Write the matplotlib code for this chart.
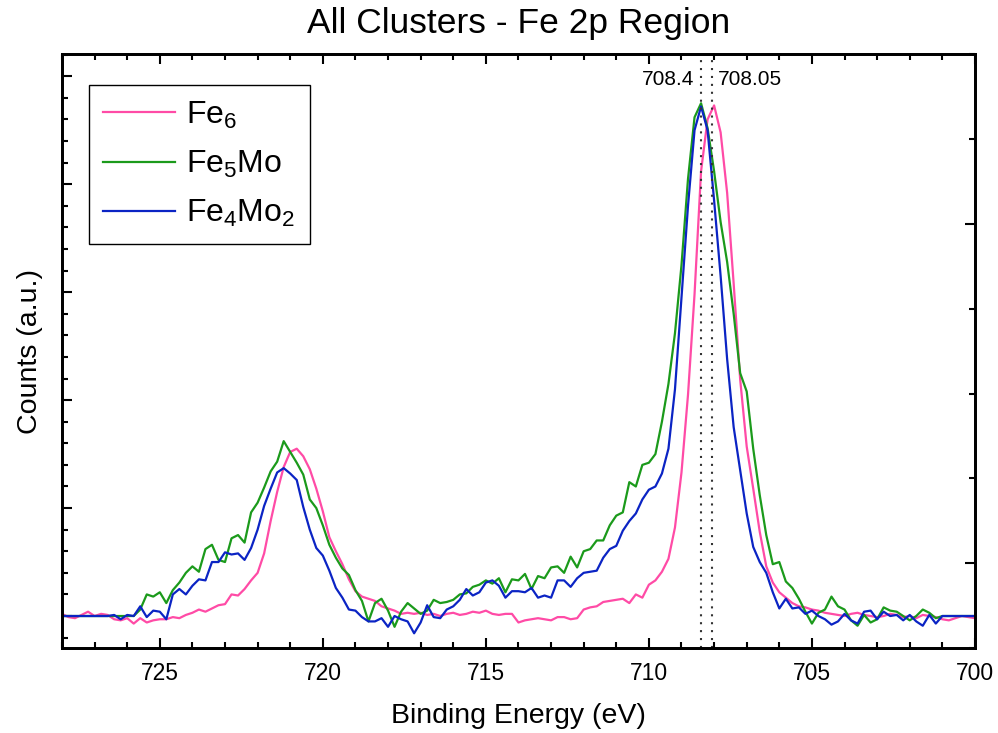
import matplotlib
matplotlib.use('Agg')
import matplotlib.pyplot as plt
from matplotlib.ticker import MultipleLocator, NullFormatter

plt.rcParams['font.family'] = 'Liberation Sans'
plt.rcParams['mathtext.fontset'] = 'custom'
plt.rcParams['mathtext.rm'] = 'Liberation Sans'
plt.rcParams['mathtext.it'] = 'Liberation Sans:italic'
plt.rcParams['mathtext.bf'] = 'Liberation Sans:bold'

# binding energy grid (eV)
energy = [728.0, 727.8, 727.6, 727.4, 727.2, 727.0, 726.8, 726.6, 726.4, 726.2,
          726.0, 725.8, 725.6, 725.4, 725.2, 725.0, 724.8, 724.6, 724.4, 724.2,
          724.0, 723.8, 723.6, 723.4, 723.2, 723.0, 722.8, 722.6, 722.4, 722.2,
          722.0, 721.8, 721.6, 721.4, 721.2, 721.0, 720.8, 720.6, 720.4, 720.2,
          720.0, 719.8, 719.6, 719.4, 719.2, 719.0, 718.8, 718.6, 718.4, 718.2,
          718.0, 717.8, 717.6, 717.4, 717.2, 717.0, 716.8, 716.6, 716.4, 716.2,
          716.0, 715.8, 715.6, 715.4, 715.2, 715.0, 714.8, 714.6, 714.4, 714.2,
          714.0, 713.8, 713.6, 713.4, 713.2, 713.0, 712.8, 712.6, 712.4, 712.2,
          712.0, 711.8, 711.6, 711.4, 711.2, 711.0, 710.8, 710.6, 710.4, 710.2,
          710.0, 709.8, 709.6, 709.4, 709.2, 709.0, 708.8, 708.6, 708.4, 708.2,
          708.0, 707.8, 707.6, 707.4, 707.2, 707.0, 706.8, 706.6, 706.4, 706.2,
          706.0, 705.8, 705.6, 705.4, 705.2, 705.0, 704.8, 704.6, 704.4, 704.2,
          704.0, 703.8, 703.6, 703.4, 703.2, 703.0, 702.8, 702.6, 702.4, 702.2,
          702.0, 701.8, 701.6, 701.4, 701.2, 701.0, 700.8, 700.6, 700.4, 700.2,
          700.0]

fe6 = [0.02, -0.01, -0.02, 0.01, 0.04, 0.00, 0.02, 0.01, -0.03, -0.04,
       -0.02, -0.07, -0.02, -0.06, -0.04, -0.03, -0.03, -0.01, -0.02, 0.01,
       0.03, 0.06, 0.04, 0.07, 0.10, 0.11, 0.20, 0.19, 0.25, 0.33,
       0.40, 0.58, 0.88, 1.15, 1.38, 1.52, 1.55, 1.48, 1.36, 1.18,
       0.97, 0.73, 0.60, 0.48, 0.34, 0.23, 0.18, 0.16, 0.14, 0.09,
       0.07, 0.05, 0.02, 0.03, 0.02, 0.03, 0.01, 0.02, 0.00, 0.02,
       0.03, 0.01, 0.02, 0.04, 0.03, 0.05, 0.02, 0.01, 0.02, 0.02,
       -0.06, -0.04, -0.03, -0.02, -0.03, -0.04, -0.01, -0.01, -0.03, -0.02,
       0.06, 0.08, 0.09, 0.13, 0.14, 0.15, 0.16, 0.12, 0.20, 0.17,
       0.29, 0.33, 0.41, 0.53, 0.82, 1.33, 2.05, 2.98, 4.12, 4.60,
       4.73, 4.48, 3.92, 3.08, 2.19, 1.57, 1.18, 0.78, 0.46, 0.31,
       0.22, 0.17, 0.12, 0.09, 0.08, 0.06, 0.05, 0.03, 0.02, 0.01,
       0.00, 0.02, 0.03, 0.01, 0.00, -0.01, 0.00, 0.02, 0.01, -0.01,
       0.00, -0.02, 0.01, 0.00, -0.01, -0.03, -0.04, -0.02, 0.00, -0.01,
       -0.02]

fe5mo = [0.0, 0.0, 0.0, 0.0, 0.0, 0.0, 0.0, 0.0, 0.0, 0.0,
         0.00, 0.00, 0.06, 0.20, 0.18, 0.22, 0.12, 0.24, 0.31, 0.40,
         0.46, 0.41, 0.62, 0.66, 0.52, 0.50, 0.72, 0.75, 0.68, 0.96,
         1.05, 1.19, 1.34, 1.43, 1.62, 1.52, 1.42, 1.31, 1.08, 1.00,
         0.84, 0.66, 0.54, 0.44, 0.38, 0.24, 0.14, -0.05, 0.12, 0.16,
         0.05, -0.10, 0.04, 0.12, 0.07, 0.02, 0.05, 0.15, 0.12, 0.13,
         0.15, 0.20, 0.21, 0.27, 0.29, 0.33, 0.30, 0.35, 0.22, 0.34,
         0.33, 0.39, 0.25, 0.37, 0.35, 0.45, 0.46, 0.40, 0.55, 0.45,
         0.60, 0.62, 0.70, 0.70, 0.84, 0.93, 0.96, 1.24, 1.20, 1.40,
         1.42, 1.50, 1.80, 2.15, 2.62, 3.25, 4.05, 4.62, 4.75, 4.52,
         4.12, 3.65, 3.28, 2.80, 2.25, 2.08, 1.55, 1.12, 0.75, 0.48,
         0.50, 0.32, 0.26, 0.16, 0.04, -0.07, 0.03, 0.06, 0.18, 0.09,
         0.06, -0.04, -0.09, 0.01, -0.06, -0.03, 0.08, 0.05, 0.04, 0.00,
         -0.04, 0.00, 0.06, 0.03, -0.02, 0.00, 0.0, 0.0, 0.0, 0.0,
         0.0]

fe4mo2 = [0.0, 0.0, 0.0, 0.0, 0.0, 0.0, 0.0, 0.0, 0.01, -0.03,
          0.01, 0.00, 0.09, -0.01, 0.05, 0.04, -0.03, 0.20, 0.25, 0.20,
          0.28, 0.34, 0.33, 0.50, 0.50, 0.59, 0.57, 0.58, 0.52, 0.63,
          0.80, 1.02, 1.18, 1.33, 1.37, 1.32, 1.26, 1.01, 0.80, 0.63,
          0.56, 0.42, 0.26, 0.17, 0.06, 0.05, -0.01, -0.05, -0.05, -0.02,
          -0.10, 0.00, -0.03, -0.05, -0.16, -0.06, 0.10, -0.01, -0.02, 0.06,
          0.09, 0.15, 0.25, 0.19, 0.22, 0.31, 0.33, 0.28, 0.17, 0.23,
          0.23, 0.22, 0.26, 0.17, 0.19, 0.17, 0.33, 0.33, 0.27, 0.35,
          0.40, 0.41, 0.42, 0.54, 0.62, 0.65, 0.79, 0.88, 0.95, 1.08,
          1.17, 1.20, 1.32, 1.55, 2.10, 2.95, 3.80, 4.50, 4.72, 4.50,
          3.85, 3.15, 2.38, 1.75, 1.35, 0.95, 0.64, 0.50, 0.40, 0.22,
          0.07, 0.16, 0.07, 0.08, 0.02, 0.05, 0.00, -0.03, -0.08, -0.05,
          0.02, -0.04, -0.07, 0.04, 0.05, -0.03, 0.04, 0.00, 0.01, -0.04,
          0.01, -0.05, -0.09, 0.01, -0.07, 0.00, 0.0, 0.0, 0.0, 0.0,
          0.0]

series = [fe6, fe5mo, fe4mo2]
labels = [r'Fe$_\mathregular{6}$', r'Fe$_\mathregular{5}$Mo', r'Fe$_\mathregular{4}$Mo$_\mathregular{2}$']
colors = ['#FF4BA6', '#1B9A1B', '#0B24C4']

peak_lines = [708.4, 708.05]
peak_labels = ['708.4', '708.05']

fig = plt.figure(figsize=(9.98, 7.33), dpi=100)
ax = fig.add_axes([0.0621, 0.116, 0.9148, 0.810])

for i in range(len(series)):
    ax.plot(energy, series[i], color=colors[i], lw=1.6, label=labels[i])

for xv in peak_lines:
    ax.axvline(xv, color='#333333', lw=1.5, linestyle=(0, (1, 2.8)))

ax.text(708.6, 4.97, peak_labels[0], ha='right', va='center', fontsize=15)
ax.text(707.88, 4.97, peak_labels[1], ha='left', va='center', fontsize=15)

ax.set_xlim(728, 700)
ax.set_ylim(-0.296, 5.204)
ax.xaxis.set_major_locator(MultipleLocator(5))
ax.xaxis.set_minor_locator(MultipleLocator(1))
ax.yaxis.set_major_locator(MultipleLocator(1))
ax.yaxis.set_minor_locator(MultipleLocator(0.2))
ax.yaxis.set_major_formatter(NullFormatter())
ax.tick_params(axis='x', which='both', direction='in', top=True, bottom=True,
               labelsize=16.5, pad=10, width=1.5)
ax.tick_params(axis='y', which='both', direction='in', left=True, right=False,
               labelleft=False, width=1.5)
ax.tick_params(which='major', length=7)
ax.tick_params(which='minor', length=4)
for s in ax.spines.values():
    s.set_linewidth(2.0)

ax2 = ax.twinx()
ax2.set_ylim(-1, 6)
ax2.yaxis.set_major_locator(MultipleLocator(4))
ax2.yaxis.set_minor_locator(MultipleLocator(1))
ax2.tick_params(axis='y', which='both', direction='in', labelright=False, width=1.5)
ax2.tick_params(which='major', length=7)
ax2.tick_params(which='minor', length=4)
for s in ax2.spines.values():
    s.set_linewidth(2.0)

ax.set_xlabel('Binding Energy (eV)', fontsize=20.5, labelpad=13)
ax.set_ylabel('Counts (a.u.)', fontsize=20.5, labelpad=14)
ax.set_title('All Clusters - Fe 2p Region', fontsize=25.5, pad=15)

leg = ax.legend(loc='upper left', bbox_to_anchor=(0.0296, 0.948), borderaxespad=0,
                fontsize=23, handlelength=2.25, handletextpad=0.35,
                labelspacing=0.57, borderpad=0.45, fancybox=False, framealpha=1)
leg.get_frame().set_edgecolor('black')
leg.get_frame().set_linewidth(1.0)

fig.savefig('out.png', dpi=100)
